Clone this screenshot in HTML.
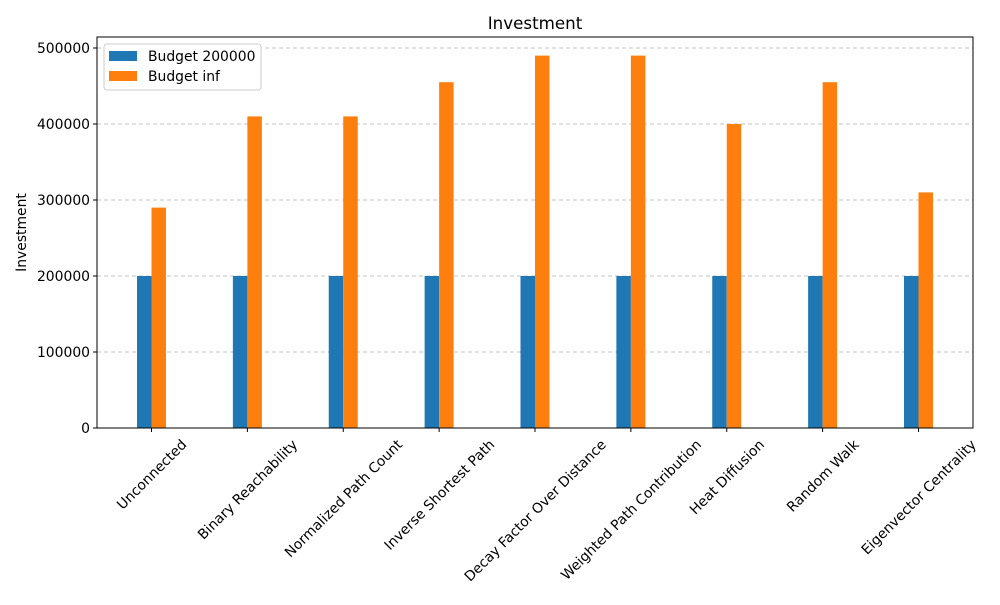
<!DOCTYPE html>
<html><head><meta charset="utf-8"><style>
body{margin:0;background:#fff}
svg text{font-family:"DejaVu Sans","Liberation Sans",sans-serif;fill:#000}
</style></head><body>
<svg id="c" width="1000" height="600" xmlns="http://www.w3.org/2000/svg"></svg>
<script>
const categories=["Unconnected","Binary Reachability","Normalized Path Count","Inverse Shortest Path","Decay Factor Over Distance","Weighted Path Contribution","Heat Diffusion","Random Walk","Eigenvector Centrality"];
const budget200k=[200000,200000,200000,200000,200000,200000,200000,200000,200000];
const budgetInf=[290000,410000,410000,455000,490000,490000,400000,455000,310000];
const yTicks=[0,100000,200000,300000,400000,500000];
const seriesNames=["Budget 200000","Budget inf"];

const svg=document.getElementById('c');const NS='http://www.w3.org/2000/svg';
const L=97,R=973,T=37,B=428,pad=54.5;
const step=(R-L-2*pad)/(categories.length-1);
const xc=i=>L+pad+i*step;
const y=v=>B-v*(B-48)/500000;
const bw=14.5;
const FS=13.9;
function mk(t,a,p){const e=document.createElementNS(NS,t);for(const k in a)e.setAttribute(k,a[k]);(p||svg).appendChild(e);return e;}
yTicks.forEach(v=>{if(v>0){const g=mk('line',{x1:L,x2:R,y1:y(v),y2:y(v),stroke:'#b0b0b0','stroke-dasharray':'4,3','stroke-width':0.8});

}});
categories.forEach((c,i)=>{
 const b1=mk('rect',{x:xc(i)-bw,y:y(budget200k[i]),width:bw,height:B-y(budget200k[i]),fill:'#1f77b4'});
 
 
 const b2=mk('rect',{x:xc(i),y:y(budgetInf[i]),width:bw,height:B-y(budgetInf[i]),fill:'#ff7f0e'});
 
 
});
const fr=mk('rect',{x:L,y:T,width:R-L,height:B-T,fill:'none',stroke:'#000','stroke-width':1});


yTicks.forEach(v=>{mk('line',{x1:L-4,x2:L,y1:y(v),y2:y(v),stroke:'#000'});
 const t=mk('text',{x:L-7,y:y(v)+5,'text-anchor':'end','font-size':FS});t.textContent=v;
 
 });
categories.forEach((c,i)=>{mk('line',{x1:xc(i),x2:xc(i),y1:B,y2:B+4,stroke:'#000'});
 const t=mk('text',{'text-anchor':'middle','font-size':FS});t.textContent=c;
 
 
 const w=t.getComputedTextLength(),h=FS;const bh=(w+h)*0.7071;
 const cy=437+bh/2;t.setAttribute('x',xc(i));t.setAttribute('y',cy+5);
 t.setAttribute('transform','rotate(-45 '+xc(i)+' '+cy+')');});
const ti=mk('text',{x:(L+R)/2,y:29,'text-anchor':'middle','font-size':16.7});ti.textContent='Investment';


const yl=mk('text',{x:26,y:(T+B)/2,'text-anchor':'middle','font-size':FS,transform:'rotate(-90 26 '+(T+B)/2+')'});yl.textContent='Investment';


const lg=mk('g',{});


mk('rect',{x:104,y:44,width:157,height:46,rx:3,fill:'#fff',stroke:'#ccc'},lg);
const cols=['#1f77b4','#ff7f0e'];
seriesNames.forEach((n,k)=>{const g=mk('g',{},lg);
 
 
 mk('rect',{x:109,y:51+k*20,width:28,height:10,fill:cols[k]},g);
 const t=mk('text',{x:148,y:61+k*20,'font-size':FS},g);t.textContent=n;});
</script>
</body></html>
